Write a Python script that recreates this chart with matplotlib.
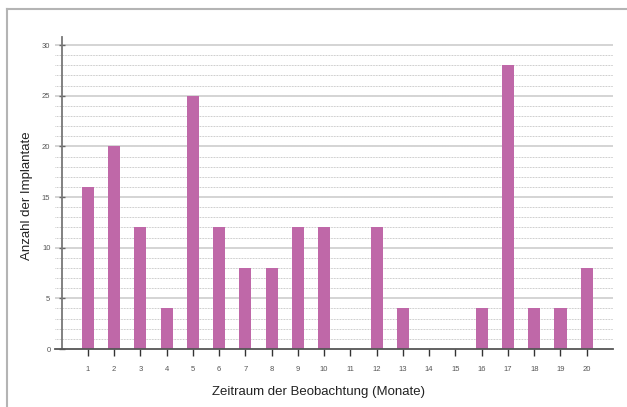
import matplotlib
matplotlib.use("Agg")
import matplotlib.pyplot as plt
from matplotlib.lines import Line2D
from matplotlib.ticker import MultipleLocator

# Daten
monate = list(range(1, 21))
anzahl = [16, 20, 12, 4, 25, 12, 8, 8, 12, 12, 0, 12, 4, 0, 0, 4, 28, 4, 4, 8]
y_ticks = [0, 5, 10, 15, 20, 25, 30]

plt.rcParams['font.family'] = ['Liberation Sans', 'DejaVu Sans']

fig = plt.figure(figsize=(6.27, 4.07), dpi=100)
ax = fig.add_axes([0.0877, 0.1425, 0.890, 0.7666])

# Rahmen oben und links
fig.add_artist(Line2D([0.011, 1.0], [0.978, 0.978], color='#b4b4b4', lw=1.5))
fig.add_artist(Line2D([0.011, 0.011], [0.0, 0.978], color='#b4b4b4', lw=1.5))

# Hilfslinien
for v in range(1, 31):
    if v % 5 == 0:
        ax.axhline(v, color='#cdcdcd', lw=1.2, zorder=0)
    else:
        ax.axhline(v, color='#c0c0c0', lw=0.7, ls=(0, (0.8, 0.8)), zorder=0)

ax.bar(monate, anzahl, width=0.46, color='#bf68a8', zorder=2)

ax.set_xlim(-0.25, 21)
ax.set_ylim(0, 30.8)
ax.set_xticks(monate)
ax.set_yticks(y_ticks)
ax.yaxis.set_minor_locator(MultipleLocator(1))
ax.tick_params(axis='y', which='minor', length=0)
ax.tick_params(axis='y', which='major', length=4, width=1, color='#666666',
               labelsize=5.5, labelcolor='#555555', pad=6, direction='inout')
ax.tick_params(axis='x', length=5, width=1, color='#333333',
               labelsize=5.5, labelcolor='#555555', pad=7)

ax.spines['left'].set_position(('data', 0))
ax.spines['left'].set_color('#777777')
ax.spines['left'].set_linewidth(1.3)
ax.spines['bottom'].set_color('#555555')
ax.spines['bottom'].set_linewidth(1.3)
ax.spines['top'].set_visible(False)
ax.spines['right'].set_visible(False)

fig.text(0.508, 0.022, 'Zeitraum der Beobachtung (Monate)', ha='center', va='bottom',
         fontsize=9.5, color='#222222')
fig.text(0.043, 0.52, 'Anzahl der Implantate', ha='center', va='center',
         rotation=90, fontsize=9.5, color='#222222')

fig.savefig('out.png', dpi=100)
